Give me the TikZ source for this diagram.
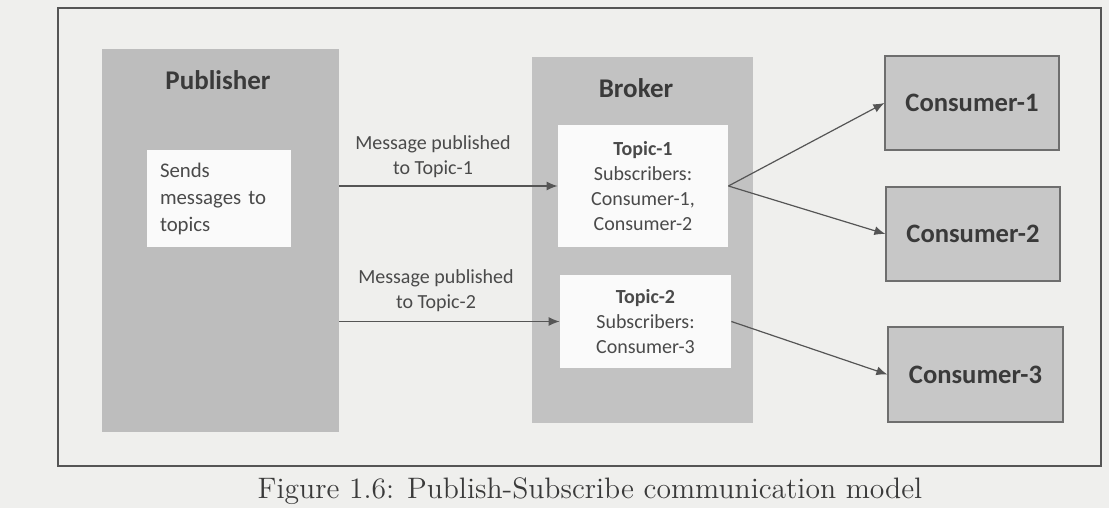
\documentclass[tikz,border=0pt]{standalone}
\usepackage{fontspec}
\newfontfamily\calib{Carlito}
\usetikzlibrary{arrows.meta}
\definecolor{pagebg}{HTML}{EFEFED}
\definecolor{pubgray}{HTML}{BDBDBD}
\definecolor{brkgray}{HTML}{C2C2C2}
\definecolor{congray}{HTML}{C7C7C7}
\definecolor{conline}{HTML}{6E6E6E}
\definecolor{boxwhite}{HTML}{FAFAFA}
\definecolor{txtgray}{HTML}{4A4A4A}
\definecolor{ttlgray}{HTML}{3A3A3A}
\definecolor{framecol}{HTML}{555555}
\tikzset{
  bigbox/.style={rectangle, inner sep=0pt, draw=none},
  whitebox/.style={rectangle, fill=boxwhite, draw=none, inner sep=0pt, align=center,
     text=txtgray, font=\calib\fontsize{10}{12.5}\selectfont},
  conbox/.style={rectangle, fill=congray, draw=conline, line width=0.6pt, inner sep=0pt,
     minimum width=87pt, minimum height=47pt, text=ttlgray,
     font=\calib\bfseries\fontsize{13.3}{16}\selectfont},
  ttl/.style={text=ttlgray, font=\calib\bfseries\fontsize{13.5}{16}\selectfont, inner sep=0pt},
  lbl/.style={text=txtgray, align=center, inner sep=0pt, font=\calib\fontsize{10}{12.5}\selectfont},
  arr/.style={draw=framecol, line width=0.6pt, -{Latex[length=5.5pt,width=4.5pt]}}
}
\begin{document}
\begin{tikzpicture}[x=0.5pt,y=-0.5pt]
\useasboundingbox (0,0) rectangle (1109,508);
\fill[pagebg] (0,0) rectangle (1109,508);
% outer frame
\draw[framecol, line width=0.8pt] (58,8) rectangle (1101,466);
% publisher
\node[bigbox, fill=pubgray, minimum width=118.5pt, minimum height=191.5pt] (pub) at (220.5,240.5) {};
\node[ttl] (pubt) at (218,80) {Publisher};
\node[whitebox, minimum width=72pt, minimum height=48.5pt, text width=59pt, align=left,
      font=\calib\fontsize{10.4}{13.5}\selectfont] (sends) at (219,198.5) {Sends\\messages to\\topics};
% broker
\node[bigbox, fill=brkgray, minimum width=110.5pt, minimum height=183pt] (brk) at (642.5,240) {};
\node[ttl] (brkt) at (636,88) {Broker};
\node[whitebox, minimum width=85pt, minimum height=61pt] (t1) at (643,186)
   {\textbf{Topic-1}\\Subscribers:\\Consumer-1,\\Consumer-2};
\node[whitebox, minimum width=85.5pt, minimum height=46.5pt] (t2) at (645.5,321.5)
   {\textbf{Topic-2}\\Subscribers:\\Consumer-3};
% consumers
\node[conbox] (c1) at (972,103) {Consumer-1};
\node[conbox] (c2) at (973,234) {Consumer-2};
\node[conbox, minimum width=87.5pt, minimum height=47.5pt] (c3) at (975.5,374.5) {Consumer-3};
% arrows publisher -> topics
\coordinate (p1) at (pub.east |- t1.west);
\coordinate (p2) at (pub.east |- t2.west);
\draw[arr] (p1) -- (t1.west);
\draw[arr] (p2) -- (t2.west);
\node[lbl] (lab1) at (433,157) {Message published\\to Topic-1};
\node[lbl] (lab2) at (436,291) {Message published\\to Topic-2};
% arrows topics -> consumers
\draw[arr] (t1.east) -- (c1.west);
\draw[arr] (t1.east) -- (c2.west);
\draw[arr] (t2.east) -- (c3.west);
% caption
\node[anchor=base, inner sep=0pt, text=ttlgray, font=\fontsize{14.8}{17}\selectfont] (cap) at (590,498)
   {Figure 1.6: Publish-Subscribe communication model};
\end{tikzpicture}
\end{document}
